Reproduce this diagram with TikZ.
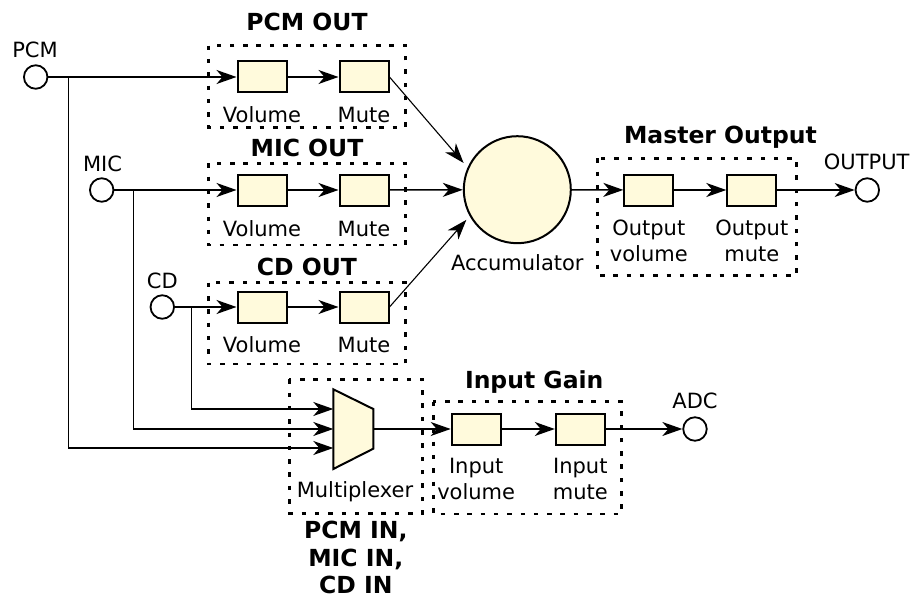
\documentclass[tikz,border=0pt]{standalone}
\usepackage{fontspec}
\setmainfont{DejaVu Sans}
\usetikzlibrary{arrows.meta}
\definecolor{blkfill}{RGB}{255,250,220}
\tikzset{
  blk/.style={draw=black, line width=2pt, fill=blkfill, minimum width=49pt, minimum height=31pt, inner sep=0pt},
  port/.style={draw=black, line width=1.8pt, fill=white, circle, minimum size=23.5pt, inner sep=0pt},
  grp/.style={draw=black, line width=2.6pt, dash pattern=on 4.5pt off 8.8pt},
  tipstyle/.tip={Stealth[length=20pt,width=14pt,inset=6pt]},
  conn/.style={line width=1.5pt, -tipstyle},
  lbl/.style={anchor=base, inner sep=0pt, font=\fontsize{21}{25}\selectfont},
  ttl/.style={anchor=base, inner sep=0pt, font=\fontsize{23.5}{28}\selectfont\bfseries},
}
\begin{document}
\begin{tikzpicture}[x=1pt,y=-1pt]
\useasboundingbox (0,0) rectangle (913,599);
% group boxes
\draw[grp] (208.3,45.7) rectangle (405.7,127.3);
\draw[grp] (208.3,163.3) rectangle (405.7,245);
\draw[grp] (208.3,282.7) rectangle (405.7,364);
\draw[grp] (597.7,158.3) rectangle (796.7,275.7);
\draw[grp] (289.3,379.3) rectangle (422.3,513.3);
\draw[grp] (433.3,401.7) rectangle (621.7,514);
% titles
\node[ttl] (tpcm) at (307,31) {PCM OUT};
\node[ttl] (tmic) at (307,156.7) {MIC OUT};
\node[ttl] (tcd) at (307,275) {CD OUT};
\node[ttl] (tmaster) at (720.5,143.3) {Master Output};
\node[ttl] (tgain) at (534.2,388.3) {Input Gain};
\node[ttl] (tin1) at (355.8,538.3) {PCM IN,};
\node[ttl] (tin2) at (355.8,566.7) {MIC IN,};
\node[ttl] (tin3) at (355.8,593.3) {CD IN};
% ports
\node[port] (pcm) at (35.7,77) {};
\node[port] (mic) at (101.7,190) {};
\node[port] (cd) at (162.3,307) {};
\node[port] (out) at (867.3,190) {};
\node[port] (adc) at (695,429) {};
\node[lbl] at (35,57.3) {PCM};
\node[lbl] at (102.5,171.7) {MIC};
\node[lbl] at (162.3,288.3) {CD};
\node[lbl] at (866.7,169.3) {OUTPUT};
\node[lbl] at (695,408.3) {ADC};
% blocks
\node[blk] (pv) at (262,77) {};
\node[blk] (pm) at (364,77) {};
\node[blk] (mv) at (262,190) {};
\node[blk] (mm) at (364,190) {};
\node[blk] (cv) at (262,307) {};
\node[blk] (cm) at (364,307) {};
\node[blk] (ov) at (648.8,190) {};
\node[blk] (om) at (751.8,190) {};
\node[blk] (iv) at (476.2,429) {};
\node[blk] (im) at (580.3,429) {};
\node[draw=black, line width=2pt, fill=blkfill, circle, minimum size=107pt, inner sep=0pt] (acc) at (517.3,189.7) {};
% block labels
\foreach \y in {123,236.7,352.3}{
  \node[lbl] at (262,\y) {Volume};
  \node[lbl] at (364,\y) {Mute};
}
\node[lbl] at (648.8,235.7) {Output};
\node[lbl] at (648.8,261.7) {volume};
\node[lbl] at (751.8,235.7) {Output};
\node[lbl] at (751.8,261.7) {mute};
\node[lbl] at (476.2,473.3) {Input};
\node[lbl] at (476.2,499.3) {volume};
\node[lbl] at (580.3,473.3) {Input};
\node[lbl] at (580.3,499.3) {mute};
\node[lbl] at (517.3,270) {Accumulator};
\node[lbl] at (355,497.3) {Multiplexer};
% multiplexer
\draw[line width=2pt, fill=blkfill] (333.3,389.3) -- (373.3,409) -- (373.3,448.7) -- (333.3,469) -- cycle;
\coordinate (muxin1) at (333.3,409);
\coordinate (muxin2) at (333.3,429);
\coordinate (muxin3) at (333.3,448);
\coordinate (muxout) at (373.3,429);
\coordinate (pcmbr) at (68.3,77);
\coordinate (micbr) at (133.3,190);
\coordinate (cdbr) at (191.7,307);
% connectors
\draw[conn] (pcm) -- (pv);
\draw[conn] (mic) -- (mv);
\draw[conn] (cd) -- (cv);
\draw[conn] (pv) -- (pm);
\draw[conn] (mv) -- (mm);
\draw[conn] (cv) -- (cm);
\draw[conn, line width=1.1pt, shorten >=6pt] (pm.east) -- (acc.156);
\draw[conn] (mm) -- (acc);
\draw[conn, line width=1.1pt, shorten >=5pt] (cm.east) -- (acc.209);
\draw[conn] (acc) -- (ov);
\draw[conn] (ov) -- (om);
\draw[conn] (om) -- (out);
\draw[conn] (pcmbr) |- (muxin3);
\draw[conn] (micbr) |- (muxin2);
\draw[conn] (cdbr) |- (muxin1);
\draw[conn] (muxout) -- (iv);
\draw[conn] (iv) -- (im);
\draw[conn] (im) -- (adc);
\end{tikzpicture}
\end{document}
